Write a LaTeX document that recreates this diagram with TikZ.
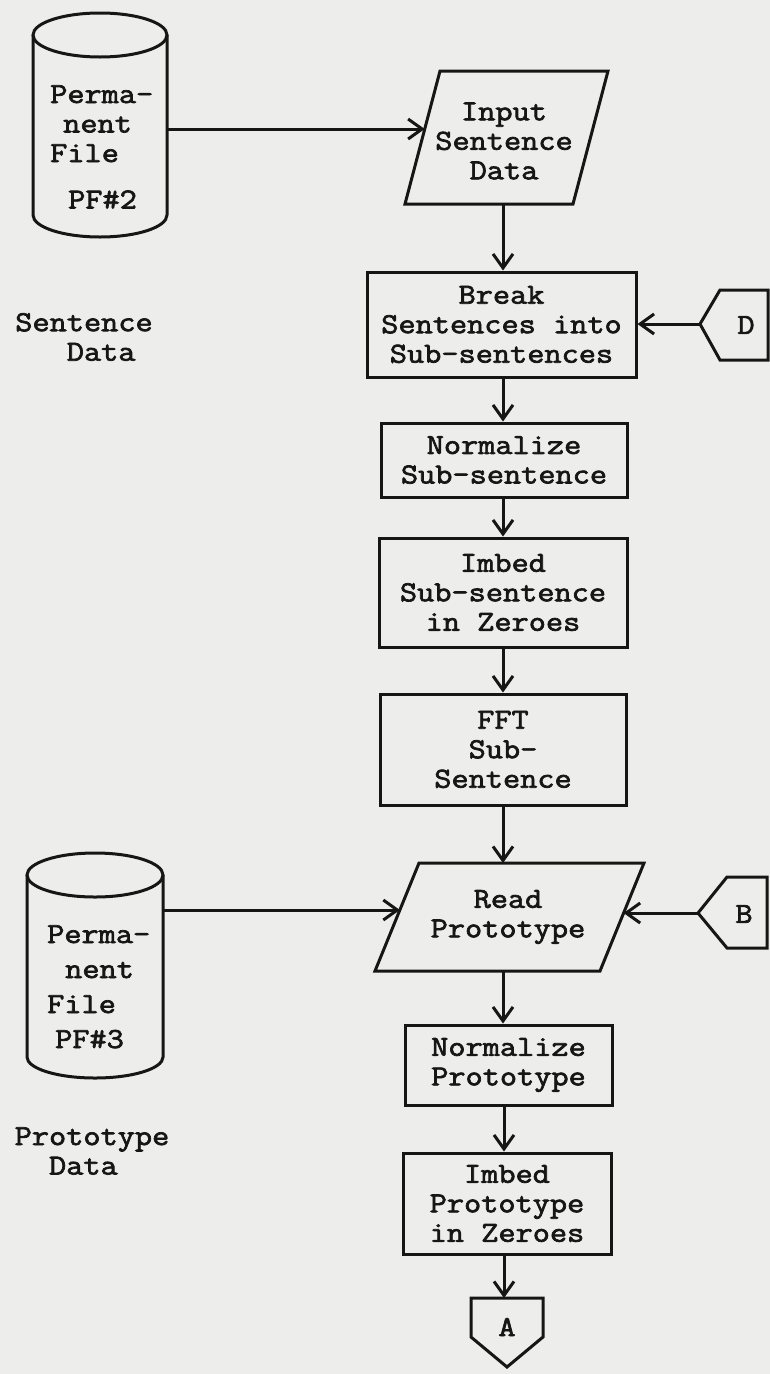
\documentclass[tikz,border=0pt]{standalone}
\usepackage{fontspec}
\newfontfamily\tw[FakeBold=2.4,FakeStretch=1.15]{Latin Modern Mono}
\usetikzlibrary{arrows.meta}
\definecolor{paper}{RGB}{237,237,235}
\definecolor{inkc}{RGB}{22,22,22}
\newcommand\twfont{\tw\fontsize{29}{29.5}\selectfont}
\begin{document}
\begin{tikzpicture}[x=1pt,y=-1pt,
  ink/.style={line width=3pt, draw=inkc, line join=miter},
  arr/.style={ink, -{Straight Barb[length=14pt,width=20pt]}},
  txt/.style={font=\twfont, align=center, inner sep=0pt, text=inkc},
  stepbox/.style={txt, draw=inkc, line width=3pt},
  plain/.style={font=\twfont, inner sep=0pt, text=inkc, anchor=base west}]
\fill[paper] (0,0) rectangle (770,1374);
\useasboundingbox (0,0) rectangle (770,1374);

% permanent file PF#2
\draw[ink] (33,35) -- (33,215) arc[start angle=180,end angle=0,x radius=67,y radius=22] -- (167,35);
\draw[ink] (100,35) ellipse[x radius=67,y radius=22];
\node[plain] (pf2) at (50,103) {\vtop{\hbox{Perma-}\hbox{\hspace{13pt}nent}\hbox{File}\vskip17pt\hbox{\hspace{18pt}PF\#2}}};
\coordinate (pf2out) at (167,129);
\node[txt] (sdata) at (84,337) {Sentence\\\phantom{xx}Data};

% input parallelogram
\draw[ink] (440,71) -- (608,71) -- (573,204) -- (405,204) -- cycle;
\node[txt] (input) at (504,141) {Input\\Sentence\\Data};
\coordinate (inL) at (424.7,129);
\coordinate (inB) at (503,204);

% processing boxes
\node[stepbox, minimum width=269, minimum height=105] (break) at (501.5,324.5) {Break\\Sentences into\\Sub-sentences};
\node[stepbox, minimum width=246, minimum height=74] (nsub) at (504,460) {Normalize\\Sub-sentence};
\node[stepbox, minimum width=248, minimum height=109] (isub) at (503,592.5) {Imbed\\Sub-sentence\\in Zeroes};
\node[stepbox, minimum width=246, minimum height=111] (fft) at (503,749.5) {FFT\\Sub-\\Sentence};

% connector D
\draw[ink] (700,324) -- (720,290) -- (768,290) -- (768,360) -- (720,360) -- cycle;
\node[txt] (D) at (746,325) {D};
\coordinate (Dtip) at (700,324);

% read prototype parallelogram
\draw[ink] (419,863) -- (644,863) -- (600,971) -- (375,971) -- cycle;
\node[txt] (read) at (508,917) {Read\\Prototype};
\coordinate (rdL) at (399.9,910);
\coordinate (rdR) at (623.6,913);
\coordinate (rdT) at (503,863);
\coordinate (rdB) at (503,971);

% connector B
\draw[ink] (698,913) -- (727,877) -- (767,877) -- (767,948) -- (727,948) -- cycle;
\node[txt] (B) at (744,914) {B};
\coordinate (Btip) at (698,913);

% permanent file PF#3
\draw[ink] (27,875) -- (27,1057) arc[start angle=180,end angle=0,x radius=68,y radius=21] -- (163,875);
\draw[ink] (95,875) ellipse[x radius=68,y radius=22];
\node[plain] (pf3) at (47,943) {\baselineskip=35pt\vtop{\hbox{Perma-}\hbox{\hspace{18pt}nent}\hbox{File}\hbox{\hspace{8pt}PF\#3}}};
\coordinate (pf3out) at (163,910);
\node[txt] (pdata) at (92,1151) {Prototype\\\phantom{xx}Data\phantom{xxx}};

\node[stepbox, minimum width=207, minimum height=80] (nprot) at (508.5,1065) {Normalize\\Prototype};
\node[stepbox, minimum width=208, minimum height=101] (iprot) at (507,1203.5) {Imbed\\Prototype\\in Zeroes};

% connector A
\draw[ink] (471,1298) -- (543,1298) -- (543,1337) -- (507,1367) -- (471,1337) -- cycle;
\node[txt] (A) at (507,1327) {A};
\coordinate (Atop) at (504,1298);

% flow
\draw[arr] (pf2out) -- (inL);
\draw[arr] (inB) -- (break.north -| inB);
\draw[arr] (Dtip) -- (break.east |- Dtip);
\draw[arr] (break.south -| inB) -- (nsub.north -| inB);
\draw[arr] (nsub.south -| inB) -- (isub.north -| inB);
\draw[arr] (isub.south -| inB) -- (fft.north -| inB);
\draw[arr] (fft.south -| inB) -- (rdT);
\draw[arr] (pf3out) -- (rdL);
\draw[arr] (Btip) -- (rdR);
\draw[arr] (rdB) -- (nprot.north -| rdB);
\draw[arr] (nprot.south -| Atop) -- (iprot.north -| Atop);
\draw[arr] (iprot.south -| Atop) -- (Atop);
\end{tikzpicture}
\end{document}
